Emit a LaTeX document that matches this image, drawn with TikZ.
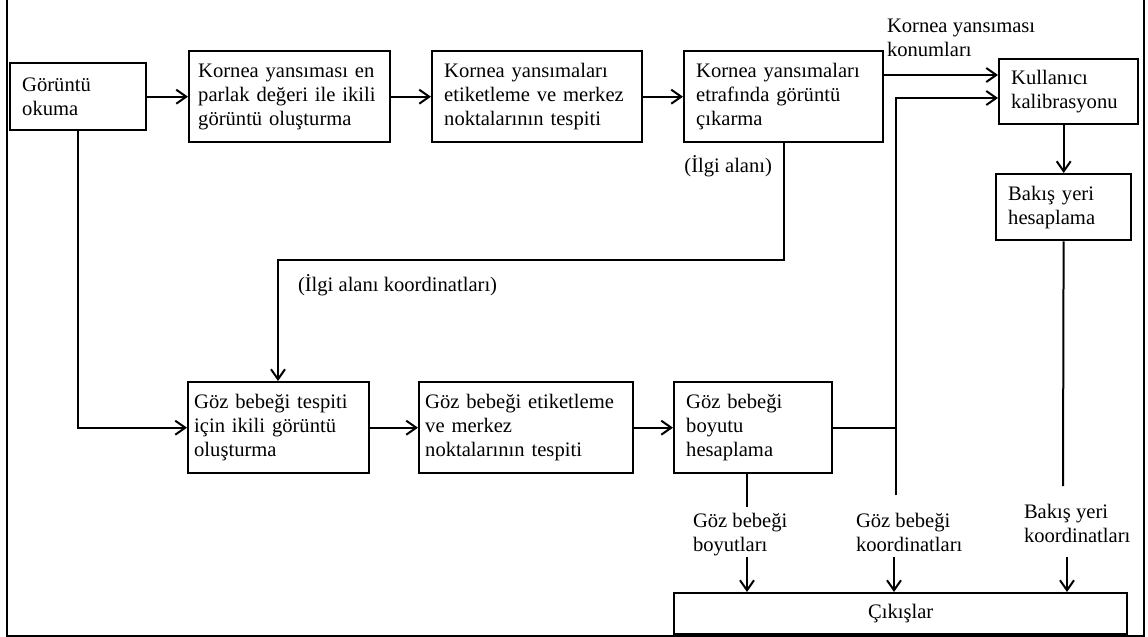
\documentclass[tikz,border=0pt]{standalone}
\usepackage{fontspec}
\setmainfont{Liberation Serif}
\usetikzlibrary{arrows.meta}

\begin{document}
\begin{tikzpicture}
	[>={Straight Barb[length=5pt,width=7pt]},x=0.5pt,y=-0.5pt,line width=1pt,
		font=\fontsize{10.3}{12}\selectfont,
		kutu/.style={draw,line width=1.2pt,anchor=north west,align=left,inner xsep=6pt,inner ysep=0pt,minimum height=45.5pt},
		yazi/.style={anchor=north west,align=left,inner sep=0pt}]

	\useasboundingbox (0,0) rectangle (1148,637);
	% frame
	\draw (7,0) -- (7,636) -- (1144,636) -- (1144,0);

	% upper row
	\node[kutu, text width=56pt, minimum height=33.5pt] (oku) at (9,62) {Görüntü\\okuma};
	\node[kutu, inner xsep=4.5pt, text width=91.5pt] (ikili) at (188,50) {Kornea yansıması en\\parlak değeri ile ikili\\görüntü oluşturma};
	\node[kutu, text width=93pt] (etiket) at (431,50) {Kornea yansımaları\\etiketleme ve merkez\\noktalarının tespiti};
	\node[kutu, text width=87.5pt] (cikar) at (683,50) {Kornea yansımaları\\etrafında görüntü\\çıkarma};
	\node[kutu, text width=57.5pt, minimum height=32.5pt] (kalib) at (998,58) {Kullanıcı\\kalibrasyonu};
	\node[kutu, text width=55.5pt, minimum height=33pt] (bakis) at (995,173) {Bakış yeri\\hesaplama};

	% lower row
	\node[kutu, inner xsep=3pt, text width=84.5pt] (gtespit) at (187,381) {Göz bebeği tespiti\\için ikili görüntü\\oluşturma};
	\node[kutu, inner xsep=3pt, text width=101pt] (getiket) at (418,381) {Göz bebeği etiketleme\\ve merkez\\noktalarının tespiti};
	\node[kutu, text width=67pt] (boyut) at (673,381) {Göz bebeği\\boyutu\\hesaplama};
	\node[kutu, align=center, minimum width=226.5pt, minimum height=20.5pt] (cikis) at (673,592) {Çıkışlar};

	% labels
	\node[yazi] (konum) at (886,18) {Kornea yansıması\\konumları};
	\node[yazi, anchor=north east] (ilgi) at (773,155) {(İlgi alanı)};
	\node[yazi] (ilgikoor) at (297,273) {(İlgi alanı koordinatları)};
	\node[yazi] (boyutlar) at (692,512) {Göz bebeği\\boyutları};
	\node[yazi] (gkoor) at (855,512) {Göz bebeği\\koordinatları};
	\node[yazi] (bkoor) at (1023,503) {Bakış yeri\\koordinatları};

	\coordinate (kk) at (940,75);
	\coordinate (kin) at (896,98);
	\coordinate (ik) at (278,260);
	\coordinate (c1) at (747,507);
	\coordinate (c2) at (896,495);
	\coordinate (c3) at (1063,486);
	\coordinate (a1) at (747,557);
	\coordinate (a2) at (894,557);
	\coordinate (a3) at (1067,557);

	\path[->]
	(oku) edge (ikili)
	(ikili) edge (etiket)
	(etiket) edge (cikar)
	(kalib.south -| bakis) edge (bakis)
	(gtespit) edge (getiket)
	(getiket) edge (boyut)
	;

	\draw[->] (cikar.east |- kk) -- (kk -| kalib.west);
	\draw[->] (c2) -- (kin) -- (kin -| kalib.west);
	\draw (boyut) -- (boyut -| c2);
	\draw[->] (cikar) -- (cikar |- ik) -- (ik) -- (ik |- gtespit.north);
	\draw[->] (oku) -- (oku |- gtespit) -- (gtespit);
	\draw (boyut.south -| c1) -- (c1);
	\draw (bakis) -- (c3);
	\draw[->] (a1) -- (a1 |- cikis.north);
	\draw[->] (a2) -- (a2 |- cikis.north);
	\draw[->] (a3) -- (a3 |- cikis.north);

\end{tikzpicture}
\end{document}
